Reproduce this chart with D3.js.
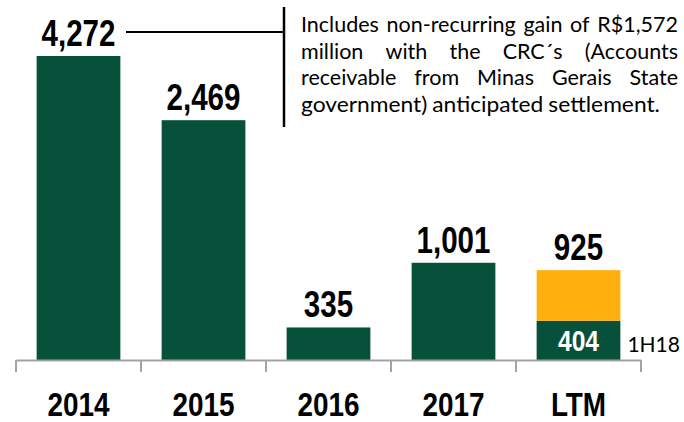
<!DOCTYPE html>
<html>
<head>
<meta charset="utf-8">
<script src="https://cdn.jsdelivr.net/npm/d3@7"></script>
<style>
  body { margin: 0; background: #fff; }
  svg { display: block; }
</style>
</head>
<body>
<svg></svg>
<script>
// chart values
let categories = ['2014', '2015', '2016', '2017', 'LTM']
let baseValues = [4272, 2469, 335, 1001, 404]     // green part
let extraValues = [0, 0, 0, 0, 521]               // orange part (LTM only)
let totalLabels = ['4,272', '2,469', '335', '1,001', '925']
let innerLabels = [null, null, null, null, '404']
let innerNote = '1H18'
let noteLines = [
    'Includes non-recurring gain of R$1,572',
    'million with the CRC\u00b4s (Accounts',
    'receivable from Minas Gerais State',
    'government) anticipated settlement.'
]

let width = 684
let height = 422
let green = '#07503a'
let orange = '#ffb00f'

let svg = d3.select('svg').attr('width', width).attr('height', height)

// pick a narrow bold font, fall back to squeezed Liberation Sans
let ctx = document.createElement('canvas').getContext('2d')
let hasNarrow = (() => {
    ctx.font = 'bold 36px monospace'
    let a = ctx.measureText('2014,LTM').width
    ctx.font = 'bold 36px "Liberation Sans Narrow", monospace'
    let b = ctx.measureText('2014,LTM').width
    return a !== b
})()
let narrowFamily = hasNarrow ? '"Liberation Sans Narrow"' : '"Liberation Sans", Arial'
let squeeze = hasNarrow ? 1 : 0.82

let narrowText = (g, x, y, txt, size, fill) => {
    let t = g.append('text')
        .attr('x', x)
        .attr('y', y)
        .attr('text-anchor', 'middle')
        .style('font-family', narrowFamily)
        .style('font-weight', 'bold')
        .style('font-size', size + 'px')
        .attr('fill', fill)
        .text(txt)
    if (squeeze !== 1) {
        let w = t.node().getComputedTextLength()
        t.attr('textLength', w * squeeze).attr('lengthAdjust', 'spacingAndGlyphs')
    }
}

let xScale = d3.scaleBand()
    .domain(categories)
    .range([16, 641])
    .paddingInner(0.33)
    .paddingOuter(0.165)

let yScale = d3.scaleLinear()
    .domain([0, 3130])
    .range([360, 56])
    .clamp(true)

// bars
let bars = svg.append('g')
bars.selectAll('rect.base')
    .data(categories)
    .enter()
    .append('rect')
    .attr('class', 'base')
    .attr('x', (c) => xScale(c))
    .attr('width', xScale.bandwidth())
    .attr('y', (c, i) => yScale(baseValues[i]))
    .attr('height', (c, i) => 360 - yScale(baseValues[i]))
    .attr('fill', green)

bars.selectAll('rect.extra')
    .data(categories.filter((c, i) => extraValues[i] > 0))
    .enter()
    .append('rect')
    .attr('class', 'extra')
    .attr('x', (c) => xScale(c))
    .attr('width', xScale.bandwidth())
    .attr('y', (c) => {
        let i = categories.indexOf(c)
        return yScale(baseValues[i] + extraValues[i])
    })
    .attr('height', (c) => {
        let i = categories.indexOf(c)
        return yScale(baseValues[i]) - yScale(baseValues[i] + extraValues[i])
    })
    .attr('fill', orange)

// axis
let xAxis = d3.axisBottom(xScale).tickSize(0).tickFormat('')
let axisG = svg.append('g')
    .attr('transform', 'translate(0,360)')
    .call(xAxis)
axisG.select('.domain').attr('stroke', '#a3a3a3').attr('stroke-width', 2)
let edges = xScale.domain().map((c) => xScale(c) - xScale.step() * xScale.paddingInner() / 2)
edges.push(641)
edges[0] = 16
axisG.selectAll('line.sep')
    .data(edges)
    .enter()
    .append('line')
    .attr('class', 'sep')
    .attr('x1', (d) => d).attr('x2', (d) => d)
    .attr('y1', 0).attr('y2', 12)
    .attr('stroke', '#a3a3a3')
    .attr('stroke-width', 2)

// category labels
let labels = svg.append('g')
categories.forEach((c, i) => {
    narrowText(labels, xScale(c) + xScale.bandwidth() / 2, 416, c, 34, '#000')
})

// value labels on top of bars
categories.forEach((c, i) => {
    let top = yScale(baseValues[i] + extraValues[i])
    narrowText(labels, xScale(c) + xScale.bandwidth() / 2, top - 10, totalLabels[i], 36, '#000')
    if (innerLabels[i]) {
        let y0 = yScale(baseValues[i])
        narrowText(labels, xScale(c) + xScale.bandwidth() / 2, (y0 + 360) / 2 + 11, innerLabels[i], 30, '#fff')
        labels.append('text')
            .attr('x', xScale(c) + xScale.bandwidth() + 7)
            .attr('y', 352)
            .style('font-family', 'Lato, "Open Sans", sans-serif')
            .style('font-size', '21px')
            .attr('fill', '#000')
            .text(innerNote)
    }
})

// annotation bracket
let note = svg.append('g')
note.append('line')
    .attr('x1', 126).attr('x2', 284)
    .attr('y1', 32).attr('y2', 32)
    .attr('stroke', '#000').attr('stroke-width', 2)
note.append('line')
    .attr('x1', 284).attr('x2', 284)
    .attr('y1', 7).attr('y2', 127)
    .attr('stroke', '#000').attr('stroke-width', 2.5)

// justified note text
let textLeft = 301
let textRight = 678
let noteFont = 'Lato, "Open Sans", sans-serif'
noteLines.forEach((line, li) => {
    let y = 32 + li * 26.7
    let words = line.split(' ')
    let last = li === noteLines.length - 1
    let nodes = words.map((w) => note.append('text')
        .attr('y', y)
        .style('font-family', noteFont)
        .style('font-size', '21.5px')
        .attr('fill', '#000')
        .text(w))
    let widths = nodes.map((n) => n.node().getComputedTextLength())
    let space = 5
    let sum = d3.sum(widths)
    let avail = textRight - textLeft
    let scale = 1
    if (last) {
        scale = (359 - space * (words.length - 1)) / sum
    } else if (sum + space * (words.length - 1) > avail) {
        scale = (avail - space * (words.length - 1)) / sum
    }
    let gap = last ? space : (avail - sum * scale) / (words.length - 1)
    let x = textLeft
    nodes.forEach((n, k) => {
        let w = widths[k] * scale
        n.attr('x', x)
        if (scale !== 1) n.attr('textLength', w).attr('lengthAdjust', 'spacingAndGlyphs')
        x += w + gap
    })
})
</script>
</body>
</html>
